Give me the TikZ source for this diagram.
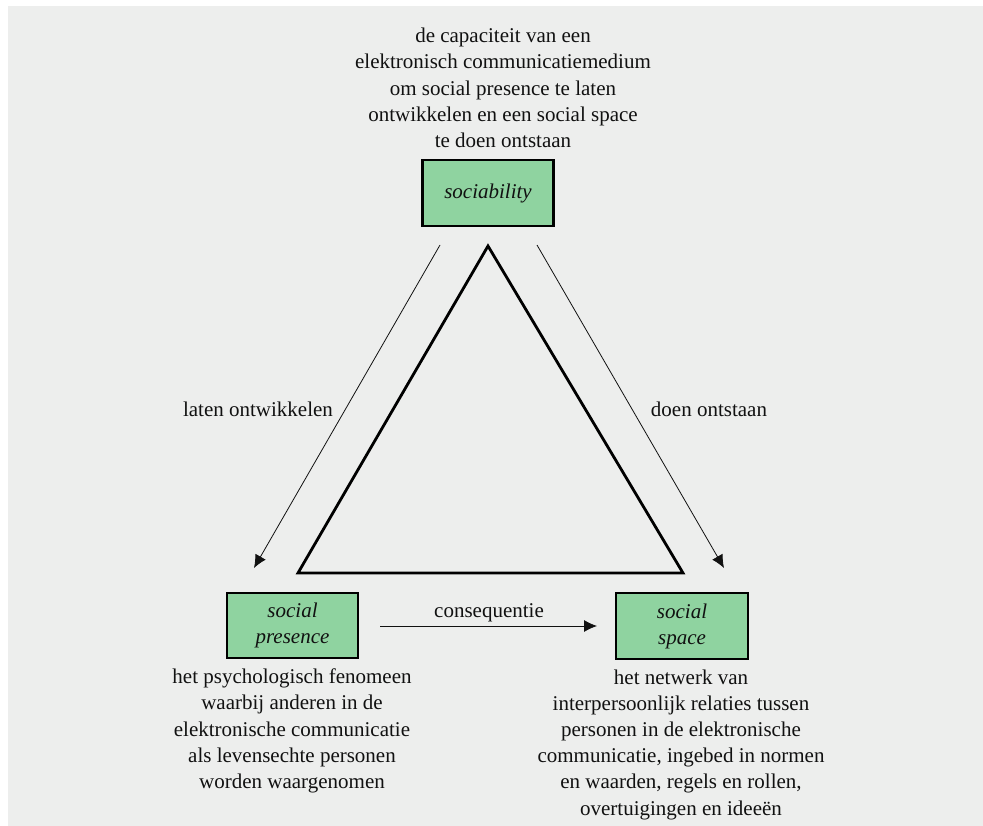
\documentclass[tikz,border=0pt]{standalone}
\usepackage{fontspec}
\setmainfont{Liberation Serif}
\usetikzlibrary{arrows.meta}
\definecolor{bg}{HTML}{EDEEED}
\definecolor{boxgreen}{HTML}{8FD3A0}
\definecolor{ink}{HTML}{111111}
\tikzset{
  txt/.style={align=center, text=ink, font=\fontsize{21}{26.2}\selectfont, inner sep=0pt},
  lbl/.style={text=ink, font=\fontsize{21}{26}\selectfont, inner sep=0pt},
  greenbox/.style={draw=black, line width=2.8pt, fill=boxgreen, text=ink, inner sep=0pt,
    align=center, font=\fontsize{21}{26}\selectfont\itshape},
  thinarrow/.style={draw=ink, line width=0.8pt, -{Latex[length=13pt,width=12pt]}},
  tri/.style={draw=black, line width=2.8pt, line join=miter}
}
\begin{document}
\begin{tikzpicture}[x=1pt,y=-1pt]
\useasboundingbox (0,0) rectangle (983,826);
\fill[white] (0,0) rectangle (983,826);
\fill[bg] (8,6) rectangle (983,826);

\node[txt] (toptxt) at (503,88) {de capaciteit van een\\elektronisch communicatiemedium\\om social presence te laten\\ontwikkelen en een social space\\te doen ontstaan};

\node[greenbox, minimum width=131pt, minimum height=66pt] (soc) at (488,193) {sociability};
\node[greenbox, minimum width=131pt, minimum height=65pt] (sp) at (292.5,625.5) {social\\presence};
\node[greenbox, minimum width=132pt, minimum height=66pt] (ss) at (682,626) {social\\space};

\coordinate (ta) at (488,246);
\coordinate (tl) at (298,573);
\coordinate (tr) at (683,573);
\draw[tri] (ta) -- (tr) -- (tl) -- cycle;

\coordinate (la) at (440,245);
\coordinate (lb) at (254,568);
\coordinate (ra) at (537,245);
\coordinate (rb) at (724,568);
\draw[thinarrow] (la) -- (lb);
\draw[thinarrow] (ra) -- (rb);

\node[lbl] (lo) at (258,409) {laten ontwikkelen};
\node[lbl] (do) at (709,409) {doen ontstaan};

\coordinate (ca) at (380,626);
\coordinate (cb) at (597,626);
\draw[thinarrow] (ca) -- (cb);
\node[lbl] (cq) at (489,613) {consequentie};

\node[txt] (sptxt) at (292,731) {het psychologisch fenomeen\\waarbij anderen in de\\elektronische communicatie\\als levensechte personen\\worden waargenomen};
\node[txt] (sstxt) at (681,744.5) {het netwerk van\\interpersoonlijk relaties tussen\\personen in de elektronische\\communicatie, ingebed in normen\\en waarden, regels en rollen,\\overtuigingen en ideeën};
\end{tikzpicture}
\end{document}
